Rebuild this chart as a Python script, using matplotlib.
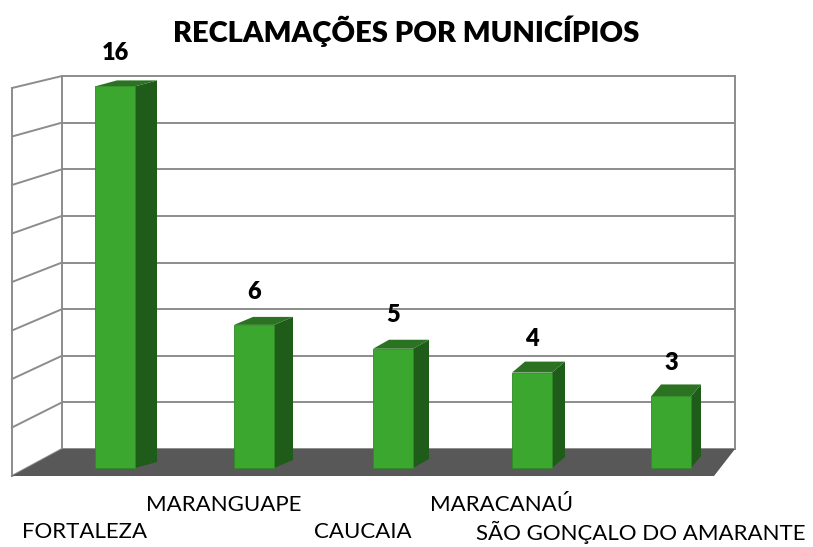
import matplotlib.pyplot as plt
from matplotlib.patches import Polygon

# dados
municipios = ['FORTALEZA', 'MARANGUAPE', 'CAUCAIA', 'MARACANAÚ', 'SÃO GONÇALO DO AMARANTE']
reclamacoes = [16, 6, 5, 4, 3]
grid_vals = [0, 2, 4, 6, 8, 10, 12, 14, 16]

# cores
verde = '#3ba72f'
verde_lado = '#1f5b19'
verde_topo = '#2b7322'
chao = '#585858'
linha = '#8c8c8c'

plt.rcParams['font.family'] = ['Lato', 'DejaVu Sans']

fig = plt.figure(figsize=(8.13, 5.47), dpi=100)
ax = fig.add_axes([0, 0, 1, 1])
# escala: 139 px por categoria, 23.85 px por unidade
ax.set_xlim(-115 / 139, (813 - 115) / 139)
ax.set_ylim(-(547 - 468) / 23.85, 468 / 23.85)
ax.axis('off')

def px(x):
    return (x - 115) / 139

def py(y):
    return (468 - y) / 23.85

# paredes (fundo, lateral) e chao
back_l, back_r = px(62), px(735)
back_bot, back_top = py(449), py(76)
front_l, front_r = px(12), px(714)
front_bot, front_top = py(476), py(88)

ax.add_patch(Polygon([(back_l, back_bot), (back_l, back_top), (back_r, back_top), (back_r, back_bot)],
                     closed=True, facecolor='white', edgecolor='none', zorder=1))
for g in grid_vals:
    yb = back_bot + (back_top - back_bot) * g / 16
    yf = front_bot + (front_top - front_bot) * g / 16
    ax.plot([back_l, back_r], [yb, yb], color=linha, lw=1.4, zorder=2)
    ax.plot([front_l, back_l], [yf, yb], color=linha, lw=1.4, zorder=2)
ax.plot([back_r, back_r], [back_bot, back_top], color=linha, lw=1.4, zorder=2)
ax.plot([back_l, back_l], [back_bot, back_top], color=linha, lw=1.4, zorder=2)
ax.plot([front_l, front_l], [front_bot, front_top], color=linha, lw=1.4, zorder=2)

ax.add_patch(Polygon([(front_l, front_bot), (back_l, back_bot), (back_r, back_bot), (front_r, front_bot)],
                     closed=True, facecolor=chao, edgecolor='none', zorder=3))

# barras 3D
x = list(range(len(municipios)))
w = 40 / 139
prof_dx = [22, 19, 16, 13, 10]
prof_dy = [6, 8, 9, 11, 12]
bars = ax.bar(x, reclamacoes, width=w, color=verde, edgecolor='#2f8a25', lw=0.6, zorder=6)
for i, b in enumerate(bars):
    v = b.get_height()
    x0 = b.get_x()
    x1 = x0 + w
    dx = prof_dx[i] / 139
    dy = prof_dy[i] / 23.85
    ax.add_patch(Polygon([(x1, 0), (x1, v), (x1 + dx, v + dy), (x1 + dx, dy)],
                         closed=True, facecolor=verde_lado, edgecolor='none', zorder=5))
    ax.add_patch(Polygon([(x0, v), (x0 + dx, v + dy), (x1 + dx, v + dy), (x1, v)],
                         closed=True, facecolor=verde_topo, edgecolor='none', zorder=5))
    ax.text(i, v + 1.4, str(v), ha='center', va='center', fontsize=17, fontweight='heavy', zorder=7)

# rotulos das categorias (alternados)
for i, nome in enumerate(municipios):
    yy = py(505) if i % 2 == 1 else py(532)
    ax.text(i - 0.22, yy, nome, ha='center', va='center', fontsize=16, zorder=7)

fig.text(406 / 813, 1 - 31 / 547, 'RECLAMAÇÕES POR MUNICÍPIOS', ha='center', va='center',
         fontsize=21, fontweight='heavy')

fig.savefig('out.png', dpi=100)
